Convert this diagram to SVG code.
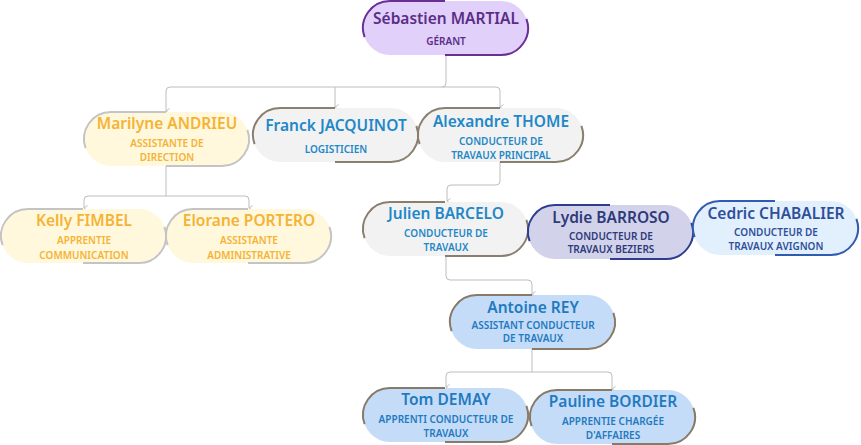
<svg xmlns="http://www.w3.org/2000/svg" width="861" height="445" viewBox="0 0 861 445">
<style>
text{font-family:"Noto Sans","Liberation Sans",sans-serif;text-anchor:middle;font-weight:600;stroke:none}
.n{font-size:15.5px}
.s{font-size:10px}
.r{stroke:none}
.b{fill:none;stroke-width:2}
.c{fill:none;stroke:#bdbdbd;stroke-width:1;marker-end:url(#a)}
.pu{fill:#e0d0fa;stroke:#6a2f95}.pu text{fill:#5c2d87}
.ye{fill:#fff8dc;stroke:#c4c4c4}.ye text{fill:#f5b335}
.gr{fill:#f2f2f2;stroke:#8a7f6e}.gr text{fill:#1e88c8}
.ly{fill:#d2d3ea;stroke:#2e3d8f}.ly text{fill:#2e3a7a}
.ce{fill:#e2f0fd;stroke:#2f5bb0}.ce text{fill:#2f4f9a}
.bl{fill:#c5dcf8;stroke:#877a66}.bl text{fill:#1f7ac0}
</style>
<defs>
<marker id="a" markerWidth="6" markerHeight="6" refX="3" refY="5" orient="auto-start-reverse" markerUnits="userSpaceOnUse" viewBox="0 0 6 6"><path d="M0.5,1.5 L3,5 L5.5,1.5" fill="none" stroke="#bdbdbd" stroke-width="1"/></marker>
<g id="sh"><rect class="r" x="0" y="0" width="165" height="54" rx="27"/><path class="b" d="M1.6,36.2 A27,27 0 0 1 27,0 L82,0"/><path class="b" d="M163.4,17.8 A27,27 0 0 1 138,54 L82,54"/></g>
</defs>
<g id="connectors">
<path class="c" d="M446,54 V83 Q446,87 442,87 H170 Q166,87 166,91 V111"/>
<path class="c" d="M335,87 V107"/>
<path class="c" d="M442,87 H496 Q500,87 500,91 V107"/>
<path class="c" d="M166,165 V196 M166,196 H88 Q84,196 84,200 V208"/>
<path class="c" d="M166,196 H245 Q249,196 249,200 V208"/>
<path class="c" d="M500,162 V181 Q500,185 496,185 H451 Q447,185 447,189 V201"/>
<path class="c" d="M446,256 V276 Q446,280 450,280 H528 Q532,280 532,284 V294"/>
<path class="c" d="M532,349 V372 H450 Q446,372 446,376 V387"/>
<path class="c" d="M532,372 H608 Q612,372 612,376 V389"/>
</g>
<g id="sebastien" class="pu" transform="translate(363,1)"><use href="#sh"/><text class="n" x="83" y="23">Sébastien MARTIAL</text><text class="s" x="83" y="44">GÉRANT</text></g>
<g id="marilyne" class="ye" transform="translate(84,112)"><use href="#sh"/><text class="n" x="83" y="17">Marilyne ANDRIEU</text><text class="s" x="83" y="35">ASSISTANTE DE</text><text class="s" x="83" y="49">DIRECTION</text></g>
<g id="franck" class="gr" transform="translate(253,108)"><use href="#sh"/><text class="n" x="83" y="23">Franck JACQUINOT</text><text class="s" x="83" y="45">LOGISTICIEN</text></g>
<g id="alexandre" class="gr" transform="translate(418,108)"><use href="#sh"/><text class="n" x="83" y="19">Alexandre THOME</text><text class="s" x="83" y="37">CONDUCTEUR DE</text><text class="s" x="83" y="51">TRAVAUX PRINCIPAL</text></g>
<g id="kelly" class="ye" transform="translate(1,209)"><use href="#sh"/><text class="n" x="83" y="17">Kelly FIMBEL</text><text class="s" x="83" y="35">APPRENTIE</text><text class="s" x="83" y="50">COMMUNICATION</text></g>
<g id="elorane" class="ye" transform="translate(166,209)"><use href="#sh"/><text class="n" x="83" y="17">Elorane PORTERO</text><text class="s" x="83" y="35">ASSISTANTE</text><text class="s" x="83" y="50">ADMINISTRATIVE</text></g>
<g id="julien" class="gr" transform="translate(363,202)"><use href="#sh"/><text class="n" x="83" y="17">Julien BARCELO</text><text class="s" x="83" y="35">CONDUCTEUR DE</text><text class="s" x="83" y="49">TRAVAUX</text></g>
<g id="lydie" class="ly" transform="translate(528,205)"><use href="#sh"/><text class="n" x="83" y="18">Lydie BARROSO</text><text class="s" x="83" y="35">CONDUCTEUR DE</text><text class="s" x="83" y="48">TRAVAUX BEZIERS</text></g>
<g id="cedric" class="ce" transform="translate(693,201)"><use href="#sh"/><text class="n" x="83" y="18">Cedric CHABALIER</text><text class="s" x="83" y="35">CONDUCTEUR DE</text><text class="s" x="83" y="49">TRAVAUX AVIGNON</text></g>
<g id="antoine" class="bl" transform="translate(450,295)"><use href="#sh"/><text class="n" x="83" y="18">Antoine REY</text><text class="s" x="83" y="34">ASSISTANT CONDUCTEUR</text><text class="s" x="83" y="47">DE TRAVAUX</text></g>
<g id="tom" class="bl" transform="translate(363,388)"><use href="#sh"/><text class="n" x="83" y="17">Tom DEMAY</text><text class="s" x="83" y="35">APPRENTI CONDUCTEUR DE</text><text class="s" x="83" y="49">TRAVAUX</text></g>
<g id="pauline" class="bl" transform="translate(530,390)"><use href="#sh"/><text class="n" x="83" y="17">Pauline BORDIER</text><text class="s" x="83" y="35">APPRENTIE CHARGÉE</text><text class="s" x="83" y="49">D'AFFAIRES</text></g>
</svg>
